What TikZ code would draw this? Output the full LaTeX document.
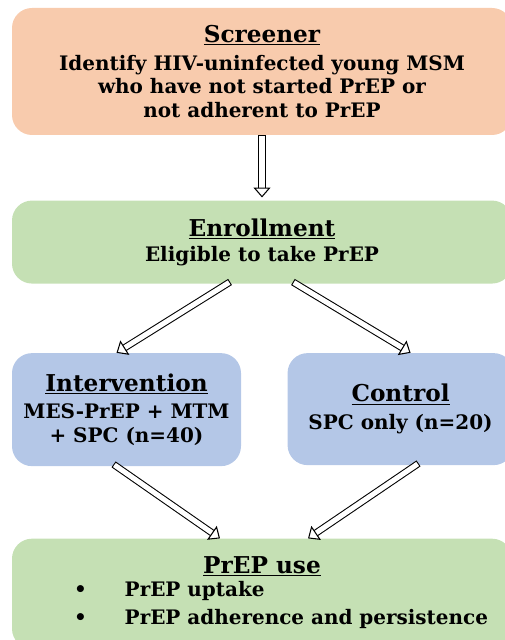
\documentclass[tikz,border=0pt]{standalone}
\usepackage{fontspec}
\setmainfont{DejaVu Serif}
\usetikzlibrary{positioning}
\usetikzlibrary{calc}
\usetikzlibrary{arrows.meta}
\definecolor{screenfill}{HTML}{F8CBAD}
\definecolor{greenfill}{HTML}{C5E0B4}
\definecolor{bluefill}{HTML}{B4C7E7}
\newcommand{\bodyfont}{\fontsize{14.2}{16.8}\selectfont\bfseries}
\newcommand{\headfont}[1]{{\fontsize{16.5}{19}\selectfont\underline{#1}}}
\tikzset{
box/.style={
  rectangle,
  rounded corners=0.5cm,
  inner sep=0pt,
  align=center,
  font=\bodyfont,
  draw=none
  },
hollow/.style={
  draw,
  double=white,
  double distance=3.6pt,
  line width=0.75pt,
  line cap=rect,
  -{Triangle[fill=white,line width=0.75pt,width=12pt,length=7pt]}
  }
}
\begin{document}
\begin{tikzpicture}[node distance=1.6cm]
    \useasboundingbox (0,0) rectangle (12.625,-16);
    \node[box,fill=screenfill,minimum width=12.5cm,minimum height=3.175cm] (screen) at (6.55,-1.7875)
        {\headfont{Screener}\\[3pt]Identify HIV-uninfected young MSM\\who have not started PrEP or\\not adherent to PrEP};
    \node[box,fill=greenfill,minimum width=12.5cm,minimum height=2.075cm] (enroll) [below=1.625cm of screen]
        {\headfont{Enrollment}\\[1pt]Eligible to take PrEP};
    \node[box,fill=bluefill,minimum width=5.725cm,minimum height=2.825cm] (interv) [below=1.725cm of enroll.south west,anchor=north west]
        {\headfont{Intervention}\\[3pt]MES-PrEP + MTM\\+ SPC (n=40)};
    \node[box,fill=bluefill,minimum width=5.65cm,minimum height=2.8cm] (control) [right=1.15cm of interv.north east,anchor=north west]
        {\headfont{Control}\\[3pt]SPC only (n=20)};
    \node[box,fill=greenfill,minimum width=12.5cm,minimum height=2.75cm] (prep) [below=1.8cm of interv.south west,anchor=north west]
        {\headfont{PrEP use}\\[2pt]\hspace*{0.95cm}\begin{tabular}{@{}l@{\hspace{0.95cm}}l@{}}
        \textbullet & PrEP uptake\\[2.5pt]
        \textbullet & PrEP adherence and persistence
        \end{tabular}};
    \draw[hollow,shorten <=2pt,shorten >=2pt] (screen.south) -- (enroll.north);
    \draw[hollow] ($(enroll.south)+(-0.875,0)$) -- ($(interv.north)+(-0.25,0)$);
    \draw[hollow] ($(enroll.south)+(0.85,0)$) -- ($(control.north)+(0.25,0)$);
    \draw[hollow] ($(interv.south)+(-0.25,0)$) -- ($(prep.north)+(-1.05,0)$);
    \draw[hollow] ($(control.south)+(0.375,0)$) -- ($(prep.north)+(1.15,0)$);
\end{tikzpicture}
\end{document}
